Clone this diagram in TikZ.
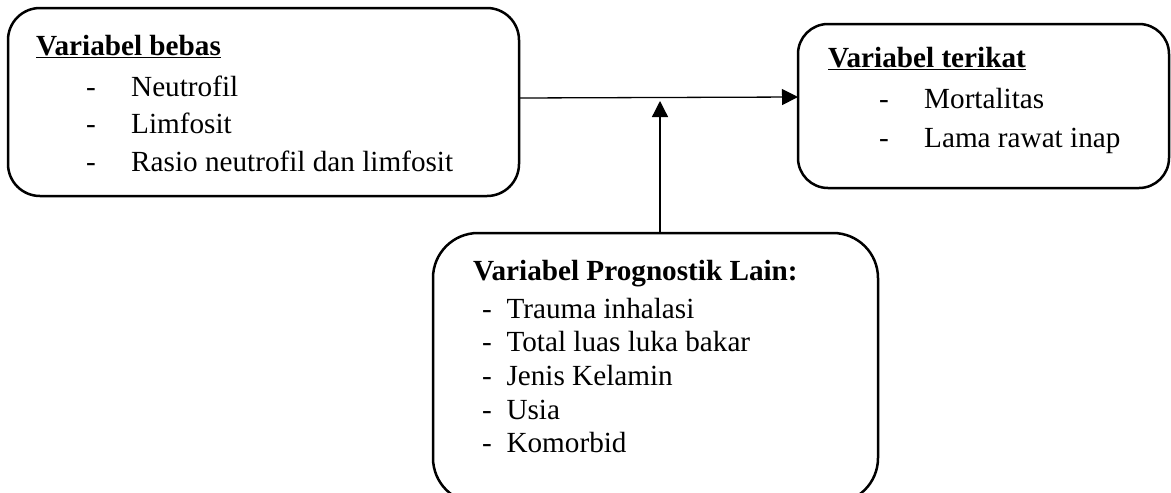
\documentclass[tikz,border=0pt]{standalone}
\usepackage{fontspec}
\setmainfont{Liberation Serif}
\usetikzlibrary{arrows.meta}
\begin{document}
\begin{tikzpicture}[x=1pt,y=-1pt,
  vbox/.style={draw,line width=2.5pt,rounded corners=#1,inner sep=0pt,outer sep=0pt},
  txt/.style={anchor=base west,inner sep=0pt,font=\fontsize{29.2}{33}\selectfont},
  head/.style={txt,font=\fontsize{29.2}{33}\selectfont\bfseries},
  link/.style={line width=1.3pt,-{Triangle[length=16pt,width=16pt]}}]
\useasboundingbox (0,0) rectangle (1171,493);
\clip (0,0) rectangle (1171,493);
% boxes
\node[vbox=32pt,minimum width=511pt,minimum height=188pt] (bebas) at (263.5,102) {};
\node[vbox=30pt,minimum width=371pt,minimum height=164pt] (terikat) at (983.5,106) {};
\node[vbox=45pt,minimum width=445pt,minimum height=270pt] (lain) at (655.5,368) {};
% independent variables
\node[head] (hb) at (36,55) {\underline{Variabel bebas}};
\node[txt] (b1d) at (86,96) {-};
\node[txt] (b1) at (131,96) {Neutrofil};
\node[txt] (b2d) at (86,133) {-};
\node[txt] (b2) at (131,133) {Limfosit};
\node[txt] (b3d) at (86,171) {-};
\node[txt] (b3) at (131,171) {Rasio neutrofil dan limfosit};
% dependent variables
\node[head] (ht) at (828,67) {\underline{Variabel terikat}};
\node[txt] (t1d) at (879,108) {-};
\node[txt] (t1) at (924,108) {Mortalitas};
\node[txt] (t2d) at (879,147) {-};
\node[txt] (t2) at (924,147) {Lama rawat inap};
% other prognostic variables
\node[head] (hl) at (473,280) {Variabel Prognostik Lain:};
\node[txt] (l1) at (482,318) {-\ \ Trauma inhalasi};
\node[txt] (l2) at (482,351) {-\ \ Total luas luka bakar};
\node[txt] (l3) at (482,385) {-\ \ Jenis Kelamin};
\node[txt] (l4) at (482,419) {-\ \ Usia};
\node[txt] (l5) at (482,452) {-\ \ Komorbid};
% connectors
\coordinate (hit) at (660,101);
\draw[link] (bebas.east |- 0,98) -- (terikat.west |- 0,97);
\draw[link] (lain.north -| hit) -- (hit);
\end{tikzpicture}
\end{document}
